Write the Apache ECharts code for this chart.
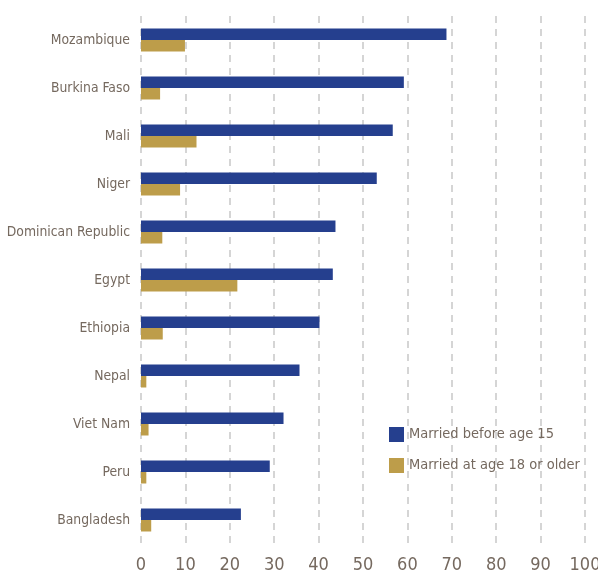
<!DOCTYPE html>
<html>
<head>
<meta charset="utf-8">
<script src="https://cdn.jsdelivr.net/npm/echarts@6/dist/echarts.min.js"></script>
<style>
  html, body { margin: 0; padding: 0; background: #fff; }
  #chart { width: 598px; height: 577px; }
</style>
</head>
<body>
<div id="chart"></div>
<script>
// categories, top to bottom
const countries = ['Mozambique', 'Burkina Faso', 'Mali', 'Niger', 'Dominican Republic', 'Egypt',
  'Ethiopia', 'Nepal', 'Viet Nam', 'Peru', 'Bangladesh']
// percent married before age 15
const before15 = [68.8, 59.2, 56.7, 53.1, 43.8, 43.2, 40.2, 35.7, 32.1, 29.0, 22.5]
// percent married at age 18 or older
const after18 = [9.9, 4.3, 12.5, 8.8, 4.8, 21.7, 4.9, 1.2, 1.7, 1.2, 2.3]
const seriesNames = ['Married before age 15', 'Married at age 18 or older']

const font = '"DejaVu Sans Condensed", "Liberation Sans Narrow", sans-serif'
const textColor = '#75695f'

const chart = echarts.init(document.getElementById('chart'))
chart.setOption({
  animation: false,
  grid: { left: 141, right: 13, top: 16, bottom: 33, containLabel: false, outerBoundsMode: 'none' },
  legend: {
    orient: 'vertical',
    left: 384,
    top: 422,
    itemWidth: 15,
    itemHeight: 15,
    itemGap: 16,
    icon: 'rect',
    textStyle: { fontFamily: font, fontSize: 14.5, color: textColor },
    data: seriesNames
  },
  xAxis: {
    type: 'value',
    min: 0,
    max: 100,
    interval: 10,
    axisLine: { show: false },
    axisTick: { show: false },
    axisLabel: { fontFamily: font, fontSize: 18, color: textColor, margin: 12 },
    splitLine: { show: true, lineStyle: { color: '#c8c8c8', type: [7, 6], width: 1.5 } }
  },
  yAxis: {
    type: 'category',
    inverse: true,
    data: countries,
    axisLine: { show: false },
    axisTick: { show: false },
    axisLabel: { fontFamily: font, fontSize: 13.8, color: textColor, margin: 11, padding: [0, 0, 4, 0] }
  },
  series: [
    {
      name: seriesNames[0],
      type: 'bar',
      data: before15,
      barWidth: 11.5,
      barGap: '0%',
      itemStyle: { color: '#253f8e' }
    },
    {
      name: seriesNames[1],
      type: 'bar',
      data: after18,
      barWidth: 11.5,
      itemStyle: { color: '#bd9d4a' }
    }
  ]
})
</script>
</body>
</html>
